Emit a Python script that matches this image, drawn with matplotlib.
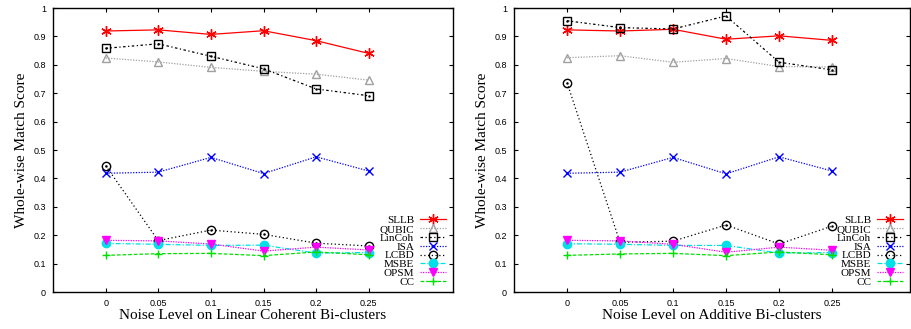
import numpy as np
import matplotlib
matplotlib.use('Agg')
import matplotlib.pyplot as plt

# Noise levels (x axis) shared by both panels
noise = [0, 0.05, 0.1, 0.15, 0.2, 0.25]
methods = ['SLLB', 'QUBIC', 'LinCoh', 'ISA', 'LCBD', 'MSBE', 'OPSM', 'CC']

# Left panel: linear coherent bi-clusters
lin_sllb = [0.919, 0.923, 0.907, 0.920, 0.885, 0.840]
lin_qubic = [0.824, 0.810, 0.791, 0.777, 0.767, 0.746]
lin_lincoh = [0.858, 0.874, 0.830, 0.786, 0.715, 0.691]
lin_isa = [0.418, 0.422, 0.474, 0.417, 0.476, 0.426]
lin_lcbd = [0.445, 0.181, 0.218, 0.203, 0.172, 0.162]
lin_msbe = [0.171, 0.168, 0.164, 0.165, 0.137, 0.139]
lin_opsm = [0.182, 0.180, 0.169, 0.144, 0.158, 0.148]
lin_cc = [0.129, 0.135, 0.136, 0.128, 0.141, 0.131]

# Right panel: additive bi-clusters
add_sllb = [0.923, 0.919, 0.925, 0.890, 0.902, 0.886]
add_qubic = [0.825, 0.832, 0.809, 0.822, 0.794, 0.792]
add_lincoh = [0.955, 0.931, 0.926, 0.972, 0.809, 0.782]
add_isa = [0.418, 0.422, 0.474, 0.416, 0.476, 0.426]
add_lcbd = [0.737, 0.175, 0.179, 0.236, 0.169, 0.232]
add_msbe = [0.170, 0.168, 0.164, 0.164, 0.137, 0.139]
add_opsm = [0.182, 0.180, 0.168, 0.140, 0.158, 0.147]
add_cc = [0.129, 0.134, 0.136, 0.128, 0.141, 0.131]

xticks = [0, 0.05, 0.1, 0.15, 0.2, 0.25]
xtick_labels = ['0', '0.05', '0.1', '0.15', '0.2', '0.25']
yticks = [0, 0.1, 0.2, 0.3, 0.4, 0.5, 0.6, 0.7, 0.8, 0.9, 1]
ytick_labels = ['0', '0.1', '0.2', '0.3', '0.4', '0.5', '0.6', '0.7', '0.8', '0.9', '1']

# gnuplot-ish styles: color, linestyle, marker, filled
styles = {
    'SLLB':   ('#ff0000', '-', (6, 2, 0), True),
    'QUBIC':  ('#a0a0a0', (0, (1, 1.2)), '^', False),
    'LinCoh': ('#000000', (0, (2, 2, 1, 2)), 's', False),
    'ISA':    ('#0000ff', (0, (1, 1.2)), 'x', True),
    'LCBD':   ('#000000', (0, (1, 2)), 'o', False),
    'MSBE':   ('#00e0e8', (0, (4, 1.5, 1, 1.5)), 'o', True),
    'OPSM':   ('#ff00ff', (0, (1, 1)), 'v', True),
    'CC':     ('#00e000', (0, (3, 1.5)), '+', True),
}

serif = ['Liberation Serif', 'DejaVu Serif']
sans = ['Liberation Sans', 'DejaVu Sans']


def draw_panel(ax, series, xlabel):
    for name, values in zip(methods, series):
        color, ls, marker, filled = styles[name]
        ax.plot(noise, values, color=color, linestyle=ls, linewidth=0.9,
                marker=marker, markersize=6 if marker != (6, 2, 0) else 7.5,
                markerfacecolor=color if filled else 'none',
                markeredgecolor=color, markeredgewidth=1.0, label=name)
        # gnuplot open square / circle have a dot in the centre
        if name in ('LinCoh', 'LCBD'):
            ax.plot(noise, values, linestyle='none', marker='.', markersize=1.5,
                    color=color)
    ax.set_xlim(-0.05, 0.33)
    ax.set_ylim(0, 1)
    ax.set_xticks(xticks)
    ax.set_xticklabels(xtick_labels, family=sans, fontsize=6.5)
    ax.set_yticks(yticks)
    ax.set_yticklabels(ytick_labels, family=sans, fontsize=6.5)
    ax.tick_params(direction='in', length=3, width=0.8, top=True, right=True,
                   pad=5)
    for sp in ax.spines.values():
        sp.set_linewidth(1.0)
    ax.set_xlabel(xlabel, family=serif, fontsize=11, labelpad=1)
    ax.set_ylabel('Whole-wise Match Score', family=serif, fontsize=11,
                  labelpad=4)
    leg = ax.legend(loc='lower right', bbox_to_anchor=(1.0, -0.005),
                    frameon=False, markerfirst=False,
                    prop={'family': serif, 'size': 8}, labelspacing=-0.09,
                    handlelength=2.4, handletextpad=0.5, borderaxespad=0.2)
    return leg


fig = plt.figure(figsize=(9.12, 3.29), dpi=100)
W, H = 912.0, 329.0
ax1 = fig.add_axes([53 / W, 37 / H, 400 / W, 284 / H])
ax2 = fig.add_axes([514 / W, 37 / H, 396 / W, 284 / H])

draw_panel(ax1, [lin_sllb, lin_qubic, lin_lincoh, lin_isa, lin_lcbd,
                 lin_msbe, lin_opsm, lin_cc],
           'Noise Level on Linear Coherent Bi-clusters')
draw_panel(ax2, [add_sllb, add_qubic, add_lincoh, add_isa, add_lcbd,
                 add_msbe, add_opsm, add_cc],
           'Noise Level on Additive Bi-clusters')
ax2.set_xlim(-0.05, 0.3235)

plt.savefig('out.png', dpi=100)
